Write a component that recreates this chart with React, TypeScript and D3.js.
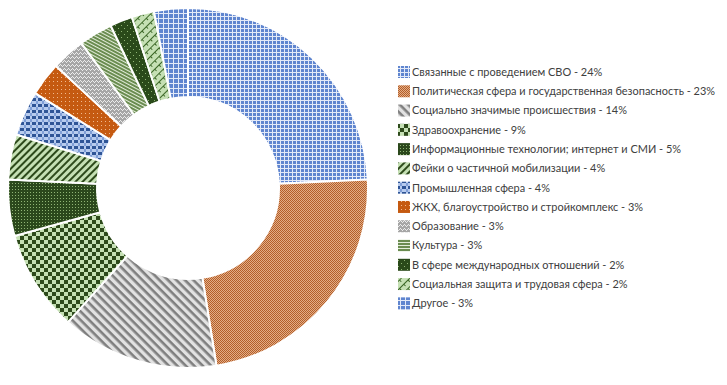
import React from 'react';
import { pie, arc } from 'd3';

const categories = [
  'Связанные с проведением СВО',
  'Политическая сфера и государственная безопасность',
  'Социально значимые происшествия',
  'Здравоохранение',
  'Информационные технологии; интернет и СМИ',
  'Фейки о частичной мобилизации',
  'Промышленная сфера',
  'ЖКХ, благоустройство и стройкомплекс',
  'Образование',
  'Культура',
  'В сфере международных отношений',
  'Социальная защита и трудовая сфера',
  'Другое',
];
const shares = [24, 23, 14, 9, 5, 4, 4, 3, 3, 3, 2, 2, 3];

const W = 727;
const H = 385;
const cx = 188;
const cy = 188;
const outerR = 180;
const innerR = 91;

// pattern fills, roughly like the office pattern presets
const Patterns = ({ prefix, rot }: { prefix: string; rot: boolean }) => (
  <>
    <pattern id={`${prefix}p0`} width="4" height="4" patternUnits="userSpaceOnUse">
      <rect width="4" height="4" fill="#5f85cf" />
      <rect width="4" height="1" fill="#e3eaf8" />
      <rect width="1" height="4" fill="#e3eaf8" />
    </pattern>
    <pattern id={`${prefix}p1`} width="2" height="2" patternUnits="userSpaceOnUse">
      <rect width="2" height="2" fill="#e3ad86" />
      <rect width="1" height="1" fill="#b35f2a" />
      <rect x="1" y="1" width="1" height="1" fill="#b35f2a" />
    </pattern>
    <pattern id={`${prefix}p2`} width="6" height="6" patternUnits="userSpaceOnUse" patternTransform="rotate(45)">
      <rect width="6" height="6" fill="#e2e2e2" />
      <rect width="6" height="2.6" fill="#7f7f7f" />
    </pattern>
    <pattern id={`${prefix}p3`} width="8" height="8" patternUnits="userSpaceOnUse">
      <rect width="8" height="8" fill="#c5e0b4" />
      <rect width="4" height="4" fill="#2d4a1b" />
      <rect x="4" y="4" width="4" height="4" fill="#2d4a1b" />
    </pattern>
    <pattern id={`${prefix}p4`} width="3" height="3" patternUnits="userSpaceOnUse">
      <rect width="3" height="3" fill="#2b481c" />
      <rect x="1" y="1" width="1" height="1" fill="#8fb474" />
    </pattern>
    <pattern id={`${prefix}p5`} width="5" height="5" patternUnits="userSpaceOnUse" patternTransform="rotate(-45)">
      <rect width="5" height="5" fill="#c5e0b4" />
      <rect width="5" height="2" fill="#2d4a1b" />
    </pattern>
    <pattern id={`${prefix}p6`} width="6" height="6" patternUnits="userSpaceOnUse">
      <rect width="6" height="6" fill="#b7cbee" />
      <rect x="0" y="0" width="4" height="3" fill="#2f5597" />
      <rect x="4" y="3" width="2" height="3" fill="#7f9ed6" />
    </pattern>
    <pattern id={`${prefix}p7`} width="4" height="4" patternUnits="userSpaceOnUse">
      <rect width="4" height="4" fill="#c55a11" />
      <rect x="1" y="1" width="1" height="1" fill="#f0b98e" />
    </pattern>
    <pattern id={`${prefix}p8`} width="4" height="4" patternUnits="userSpaceOnUse">
      <rect width="4" height="4" fill="#a6a6a6" />
      <rect x="0" y="0" width="1" height="1" fill="#ececec" />
      <rect x="1" y="1" width="1" height="1" fill="#ececec" />
      <rect x="2" y="2" width="1" height="1" fill="#ececec" />
      <rect x="3" y="1" width="1" height="1" fill="#ececec" />
    </pattern>
    <pattern id={`${prefix}p9`} width="3" height="3" patternUnits="userSpaceOnUse" patternTransform={rot ? 'rotate(28)' : undefined}>
      <rect width="3" height="3" fill="#e2ecd9" />
      <rect width="3" height="2" fill="#6a8c50" />
    </pattern>
    <pattern id={`${prefix}p10`} width="6" height="6" patternUnits="userSpaceOnUse">
      <rect width="6" height="6" fill="#2a4a1a" />
      <rect x="2" y="2" width="1" height="1" fill="#8fb474" />
      <rect x="5" y="5" width="1" height="1" fill="#8fb474" />
    </pattern>
    <pattern id={`${prefix}p11`} width="6" height="6" patternUnits="userSpaceOnUse" patternTransform="rotate(-45)">
      <rect width="6" height="6" fill="#c5e0b4" />
      <rect width="6" height="1" fill="#3f6a2a" />
      <rect x="0" y="0" width="1" height="3" fill="#3f6a2a" />
    </pattern>
    <pattern id={`${prefix}p12`} width="5" height="5" patternUnits="userSpaceOnUse">
      <rect width="5" height="5" fill="#5f85cf" />
      <rect width="5" height="1" fill="#e3eaf8" />
      <rect width="1" height="5" fill="#e3eaf8" />
    </pattern>
  </>
);

export default function App() {
  const arcs = pie<number>().sort(null).value(d => d)(shares);
  const arcGen = arc<any>().innerRadius(innerR).outerRadius(outerR);
  const legendX = 398;
  const legendY0 = 72;
  const legendStep = 19.28;

  return (
    <svg width={W} height={H} style={{ position: 'absolute', left: 0, top: 0 }}>
      <defs>
        <Patterns prefix="s" rot={true} />
        <Patterns prefix="l" rot={false} />
      </defs>
      <rect width={W} height={H} fill="#ffffff" />
      <g transform={`translate(${cx},${cy})`}>
        {arcs.map((a, i) => (
          <path key={i} d={arcGen(a) as string} fill={`url(#sp${i})`} stroke="#ffffff" strokeWidth={2} />
        ))}
      </g>
      <g fontFamily="Lato, 'Open Sans', sans-serif" fontSize={10.95} fill="#404040">
        {categories.map((c, i) => {
          const y = legendY0 + i * legendStep;
          return (
            <g key={c}>
              <rect x={legendX} y={y - 6} width={12} height={12} fill={`url(#lp${i})`} />
              <text x={legendX + 14} y={y} dy="0.35em">{`${c} - ${shares[i]}%`}</text>
            </g>
          );
        })}
      </g>
    </svg>
  );
}
